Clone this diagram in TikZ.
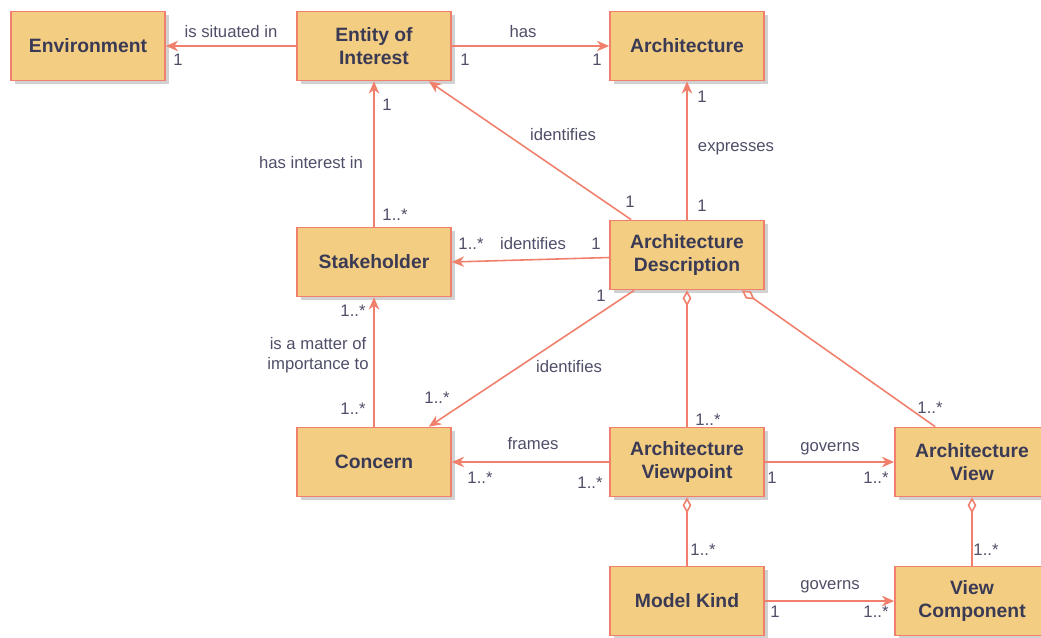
\documentclass[tikz,border=0pt]{standalone}
\usepackage{fontspec}
\setmainfont{Liberation Sans}
\usetikzlibrary{arrows.meta,shadows}
\definecolor{boxfill}{RGB}{243,205,130}
\definecolor{boxline}{RGB}{240,128,108}
\definecolor{ink}{RGB}{58,58,85}
\definecolor{labink}{RGB}{78,78,104}
\tikzset{
    cls/.style={draw=boxline, line width=1pt, fill=boxfill, minimum width=3.08cm, minimum height=1.38cm,
        align=center, text=ink, font=\fontsize{11}{13}\selectfont\bfseries,
        drop shadow={shadow xshift=2pt, shadow yshift=-2pt, fill=black!30, opacity=0.6}},
    assoc/.style={draw=boxline, line width=0.9pt, -{Stealth[length=7pt,width=6pt]}},
    aggr/.style={draw=boxline, line width=0.9pt, {Diamond[open,length=9pt,width=5pt,fill=white]}-},
    lab/.style={text=labink, font=\fontsize{9.5}{11.5}\selectfont, inner sep=1pt, align=center}
}
\begin{document}
\begin{tikzpicture}[x=0.02cm, y=-0.02cm]
\useasboundingbox (0,0) rectangle (1041,637);
% classes
\node[cls] (env) at (88,46) {Environment};
\node[cls] (eoi) at (374,46) {Entity of\\Interest};
\node[cls] (arch) at (687,46) {Architecture};
\node[cls] (stake) at (374,262) {Stakeholder};
\node[cls] (ad) at (687,255) {Architecture\\Description};
\node[cls] (concern) at (374,462) {Concern};
\node[cls] (vp) at (687,462) {Architecture\\Viewpoint};
\node[cls] (view) at (972,462) {Architecture\\View};
\node[cls] (mk) at (687,601) {Model Kind};
\node[cls] (vc) at (972,601) {View\\Component};

% associations
\draw[assoc] (eoi.west)--(env.east);
\draw[assoc] (eoi.east)--(arch.west);
\draw[assoc] (stake.north)--(eoi.south);
\draw[assoc] ([xshift=0.44cm]ad.north west)--([xshift=-0.46cm]eoi.south east);
\draw[assoc] (ad.north)--(arch.south);
\draw[assoc] ([yshift=-0.05cm]ad.west)--(stake.east);
\draw[assoc] ([xshift=0.5cm]ad.south west)--([xshift=-0.46cm]concern.north east);
\draw[assoc] (concern.north)--(stake.south);
\draw[assoc] (vp.west)--(concern.east);
\draw[assoc] (vp.east)--(view.west);
\draw[assoc] (mk.east)--(vc.west);

% aggregations
\draw[aggr] (ad.south)--(vp.north);
\draw[aggr] ([xshift=-0.46cm]ad.south east)--([xshift=0.82cm]view.north west);
\draw[aggr] (vp.south)--(mk.north);
\draw[aggr] (view.south)--(vc.north);

% labels and multiplicities
\foreach \n/\x/\y/\t in {1/231/32/is situated in, 2/178/60/1, 3/523/32/has, 4/465/60/1, 5/597/60/1,
    6/387/105/1, 7/311/163/has interest in, 8/395/215/1..*, 9/563/135/identifies, 10/630/202/1,
    11/702/97/1, 12/736/149/expresses, 13/702/206/1,
    14/471/244/1..*, 15/533/244/identifies, 16/596/244/1,
    17/353/311/1..*, 18/318/355/{is a matter of\\importance to}, 19/353/409/1..*,
    20/601/296/1, 21/569/367/identifies, 22/437/398/1..*,
    23/708/420/1..*, 24/930/408/1..*,
    25/533/444/frames, 26/480/478/1..*, 27/590/483/1..*,
    28/830/449/governs, 29/772/478/1, 30/876/478/1..*,
    31/703/550/1..*, 32/986/550/1..*,
    33/830/587/governs, 34/775/612/1, 35/876/612/1..*}
{
    \node[lab] (lab\n) at (\x,\y) {\t};
}
\end{tikzpicture}
\end{document}
